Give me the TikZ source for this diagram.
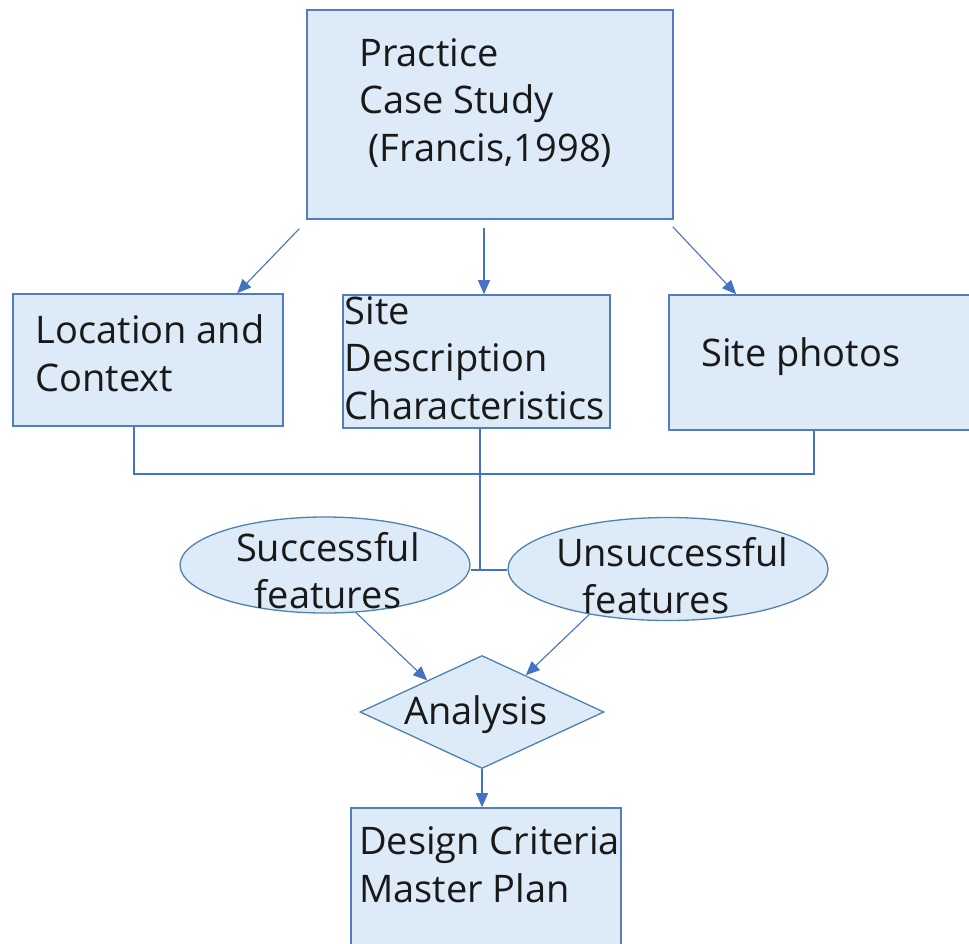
\documentclass[tikz,border=0pt]{standalone}
\usepackage{fontspec}
\setmainfont{Open Sans}
\usetikzlibrary{arrows.meta,shapes.geometric,calc}
\definecolor{boxfill}{RGB}{221,234,247}
\definecolor{boxline}{RGB}{84,124,196}
\definecolor{ellline}{RGB}{80,130,175}
\definecolor{arrline}{RGB}{68,114,196}
\begin{document}
\begin{tikzpicture}[x=1pt,y=1pt,
  box/.style={draw=boxline,fill=boxfill,line width=1.6pt,inner sep=0pt},
  ell/.style={ellipse,draw=ellline,fill=boxfill,line width=1.3pt,inner sep=0pt},
  dia/.style={diamond,draw=ellline,fill=boxfill,line width=1.3pt,inner sep=0pt},
  txt/.style={anchor=base west,inner sep=0pt,font=\fontsize{38}{47.5}\selectfont,align=left,text=black!90},
  ctxt/.style={anchor=base,inner sep=0pt,font=\fontsize{38}{46.5}\selectfont,align=center,text=black!90},
  arr/.style={draw=arrline,line width=1.1pt,-{Triangle[length=14pt,width=12pt]}},
  conn/.style={draw=arrline,line width=1.1pt}]
\useasboundingbox (0,0) rectangle (969,-943);
\clip (0,0) rectangle (969,-943);
% boxes
\node[box,minimum width=366pt,minimum height=209pt] (top) at (490,-114.5) {};
\node[box,minimum width=270pt,minimum height=132pt] (loc) at (148,-360) {};
\node[box,minimum width=267pt,minimum height=133pt] (site) at (476.5,-361.5) {};
\node[box,minimum width=320pt,minimum height=135pt] (photos) at (829,-362.5) {};
\node[box,minimum width=270pt,minimum height=152pt] (design) at (486,-884) {};
% ellipses and diamond
\node[ell,minimum width=290pt,minimum height=96pt] (succ) at (325,-565) {};
\node[ell,minimum width=320pt,minimum height=103pt] (unsucc) at (668,-569) {};
\node[dia,minimum width=244pt,minimum height=113pt,aspect=2.16] (ana) at (482,-712) {};
% texts
\node[txt] (ttop) at (359,-161) {Practice\\Case Study\\\hspace{0.25em}(Francis,1998)};
\node[txt] (tloc) at (35.5,-391) {Location and\\Context};
\node[txt] (tsite) at (344.5,-419) {Site\\Description\\Characteristics};
\node[txt] (tphotos) at (701,-366) {Site photos};
\node[txt] (tdesign) at (359,-902) {Design Criteria\\Master Plan};
\node[ctxt] (tsucc) at (328,-608) {Successful\\features};
\node[ctxt] (tunsucc) at (672,-613) {Unsuccessful\\\hspace*{-16pt}features\hspace*{16pt}};
\node[ctxt] (tana) at (476,-724) {Analysis};
% arrows from top
\draw[arr] ([shift={(-7,-9)}]top.south west) -- ([xshift=225]loc.north west);
\draw[arr] ([shift={(-6,-8)}]top.south) -- ([xshift=7.5]site.north);
\draw[arr] ([shift={(-1,-7)}]top.south east) -- ([xshift=68]photos.north west);
% collector
\coordinate (jl) at (134,-474);
\coordinate (jr) at (814,-474);
\coordinate (jm) at (480,-570);
\draw[conn] ([xshift=-14]loc.south) -- (jl) -- (jr) -- ([xshift=-15]photos.south);
\draw[conn] ([xshift=3.5]site.south) -- (jm);
\draw[conn] (jm -| succ.east) -- (jm -| unsucc.west);
% to analysis
\draw[arr] (succ.-57) -- (ana.150);
\draw[arr] (unsucc.-150) -- (ana.40);
\draw[arr] (ana.south) -- (ana.south |- design.north);
\end{tikzpicture}
\end{document}
